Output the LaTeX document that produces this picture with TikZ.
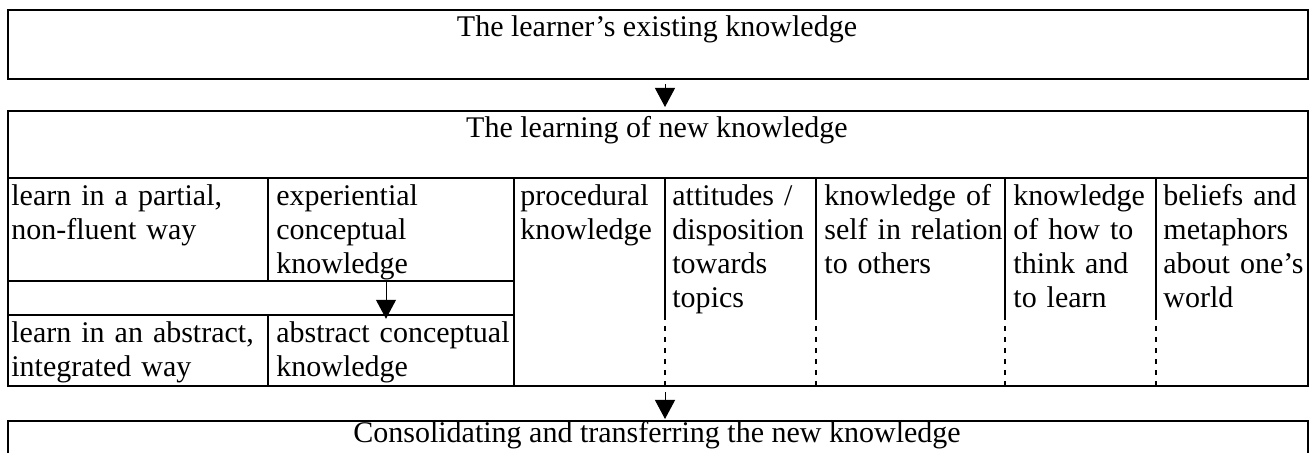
\documentclass[tikz,border=0pt]{standalone}
\usepackage{fontspec}
\setmainfont{Liberation Serif}
\usetikzlibrary{arrows.meta,calc}
\begin{document}
\begin{tikzpicture}[x=0.5pt,y=-0.5pt,
  frame/.style={draw,line width=1pt,inner sep=0pt,anchor=north west,minimum width=650pt},
  rule/.style={line width=0.8pt},
  dashrule/.style={line width=0.8pt,dash pattern=on 2.5pt off 3pt},
  cell/.style={anchor=base west,inner sep=0pt,text width=130pt,align=left,font=\fontsize{15pt}{17pt}\selectfont},
  title/.style={anchor=base,inner sep=0pt,font=\fontsize{15pt}{17pt}\selectfont},
  arr/.style={line width=0.5pt,-{Triangle[length=9.5pt,width=10pt]}}]
\useasboundingbox (0,0) rectangle (1316,453);
\fill[white] (0,0) rectangle (1316,453);
\clip (0,0) rectangle (1316,453);
% boxes
\node[frame,minimum height=34.5pt] (exist) at (7,9) {};
\node[frame,minimum height=137.5pt] (learn) at (7,110) {};
\node[frame,minimum height=40pt] (cons) at (7,420) {};
\node[title] (texist) at (657,37) {The learner’s existing knowledge};
\node[title] (tlearn) at (657,138) {The learning of new knowledge};
\node[title] (tcons) at (657,443) {Consolidating and transferring the new knowledge};
% grid lines
\draw[rule] (7,178) -- (1307,178);
\draw[rule] (7,281) -- (514,281);
\draw[rule] (7,315) -- (514,315);
\draw[rule] (268,178) -- (268,281);
\draw[rule] (268,315) -- (268,386);
\draw[rule] (514,178) -- (514,386);
\foreach \x in {665,816,1005,1156} {
  \draw[rule] (\x,178) -- (\x,315);
  \draw[dashrule] (\x,315) -- (\x,385);
}
% cells
\node[cell] (c1) at (11,206) {learn in a partial,\\non-fluent way};
\node[cell] (exp) at (276,206) {experiential\\conceptual\\knowledge};
\node[cell] (c3) at (520,206) {procedural\\knowledge};
\node[cell] (c4) at (672,206) {attitudes /\\disposition\\towards\\topics};
\node[cell] (c5) at (824,206) {knowledge of\\self in relation\\to others};
\node[cell] (c6) at (1013,206) {knowledge\\of how to\\think and\\to learn};
\node[cell] (c7) at (1163,206) {beliefs and\\metaphors\\about one’s\\world};
\node[cell] (c8) at (11,343) {learn in an abstract,\\integrated way};
\node[cell] (abs) at (276,343) {abstract conceptual\\knowledge};
% arrows
\coordinate (ax) at (665,0);
\coordinate (bx) at (386,0);
\draw[arr] ($(exist.south -| ax)+(0,4)$) -- ($(learn.north -| ax)+(0,-3)$);
\draw[arr] ($(learn.south -| ax)+(0,5)$) -- ($(cons.north -| ax)+(0,-1)$);
\draw[arr] (exp.south -| bx) -- ($(abs.north -| bx)+(0,-3)$);
\end{tikzpicture}
\end{document}
